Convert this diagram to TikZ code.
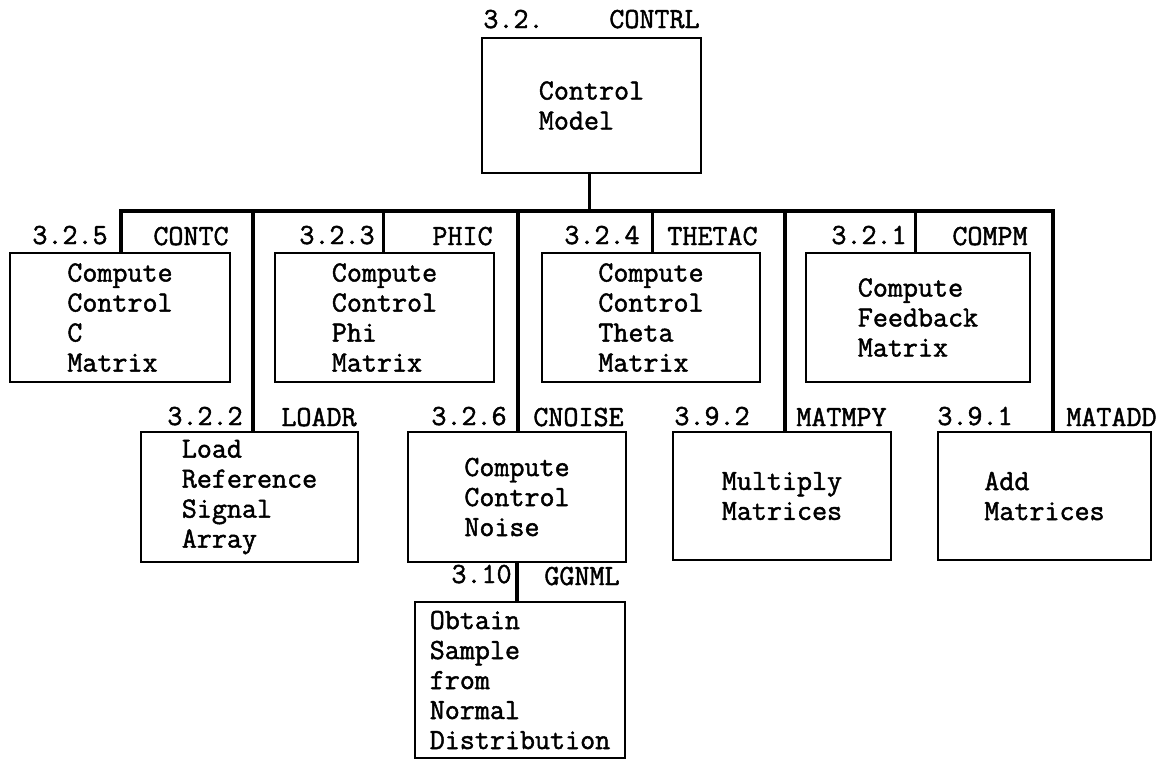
\documentclass[tikz,border=0pt]{standalone}
\usepackage{fontspec}
\newfontfamily\tw[FakeBold=1.6]{Latin Modern Mono}
\begin{document}
\begin{tikzpicture}[x=0.5pt,y=-0.5pt,
  box/.style={draw,line width=1.4pt,rectangle,align=left,inner sep=0pt,
    font=\tw\fontsize{14.6pt}{15pt}\selectfont},
  lbl/.style={inner sep=0pt,font=\tw\fontsize{14.6pt}{15pt}\selectfont},
  numlbl/.style={lbl,anchor=base east},
  modlbl/.style={lbl,anchor=base east},
  link/.style={line width=1.9pt,line join=miter,line cap=butt}]
\useasboundingbox (0,0) rectangle (1163,761);

% top module
\node[box,minimum width=109.5pt,minimum height=67.5pt] (contrl) at (591.5,105.5) {Control\\Model};
\node[lbl,anchor=base west] (l32) at (483,28) {3.2.};
\node[modlbl] (lcontrl) at (700,28) {CONTRL};

% first row of modules
\node[box,minimum width=110pt,minimum height=64.5pt] (contc) at (120,317.5) {Compute\\Control\\C\\Matrix};
\node[box,minimum width=109.5pt,minimum height=64.5pt] (phic) at (384.5,317.5) {Compute\\Control\\Phi\\Matrix};
\node[box,minimum width=109pt,minimum height=64.5pt] (thetac) at (651,317.5) {Compute\\Control\\Theta\\Matrix};
\node[box,minimum width=112pt,minimum height=64.5pt] (compm) at (918,317.5) {Compute\\Feedback\\Matrix};

\node[numlbl] (n325) at (108,244) {3.2.5};
\node[modlbl] (lcontc) at (229,245) {CONTC};
\node[numlbl] (n323) at (375,244) {3.2.3};
\node[modlbl] (lphic) at (493,245) {PHIC};
\node[numlbl] (n324) at (640,244) {3.2.4};
\node[modlbl] (lthetac) at (758,245) {THETAC};
\node[numlbl] (n321) at (907,244) {3.2.1};
\node[modlbl] (lcompm) at (1028,245) {COMPM};

% second row of modules
\node[box,minimum width=108.5pt,minimum height=65pt] (loadr) at (249.5,497) {Load\\Reference\\Signal\\Array};
\node[box,minimum width=109pt,minimum height=65pt] (cnoise) at (517,497) {Compute\\Control\\Noise};
\node[box,minimum width=109pt,minimum height=64pt] (matmpy) at (782,496) {Multiply\\Matrices};
\node[box,minimum width=106.5pt,minimum height=64pt] (matadd) at (1044.5,496) {Add\\Matrices};

\node[numlbl] (n322) at (243,425) {3.2.2};
\node[modlbl] (lloadr) at (357,426) {LOADR};
\node[numlbl] (n326) at (507,425) {3.2.6};
\node[modlbl] (lcnoise) at (624,426) {CNOISE};
\node[numlbl] (n392) at (750,425) {3.9.2};
\node[modlbl] (lmatmpy) at (887,426) {MATMPY};
\node[numlbl] (n391) at (1013,425) {3.9.1};
\node[modlbl] (lmatadd) at (1157,426) {MATADD};

% third level
\node[box,minimum width=105pt,minimum height=78pt] (ggnml) at (520,680) {Obtain\\Sample\\from\\Normal\\Distribution};
\node[numlbl] (n310) at (512,583) {3.10};
\node[modlbl] (lggnml) at (620,585) {GGNML};

% bus taps
\coordinate (top) at (589.5,211);
\coordinate (b1) at (121,211);
\coordinate (b2) at (253,211);
\coordinate (b3) at (383.5,211);
\coordinate (b4) at (518,211);
\coordinate (b5) at (652.5,211);
\coordinate (b6) at (785,211);
\coordinate (b7) at (915.5,211);
\coordinate (b8) at (1053,211);
\coordinate (g) at (517,562);

% connectors
\draw[link] (top |- contrl.south) -- (top);
\draw[link] (b1 |- contc.north) -- (b1) -- (b8) -- (b8 |- matadd.north);
\draw[link] (b2) -- (b2 |- loadr.north);
\draw[link] (b3) -- (b3 |- phic.north);
\draw[link] (b4) -- (b4 |- cnoise.north);
\draw[link] (b5) -- (b5 |- thetac.north);
\draw[link] (b6) -- (b6 |- matmpy.north);
\draw[link] (b7) -- (b7 |- compm.north);
\draw[link] (g |- cnoise.south) -- (g |- ggnml.north);
\end{tikzpicture}
\end{document}
